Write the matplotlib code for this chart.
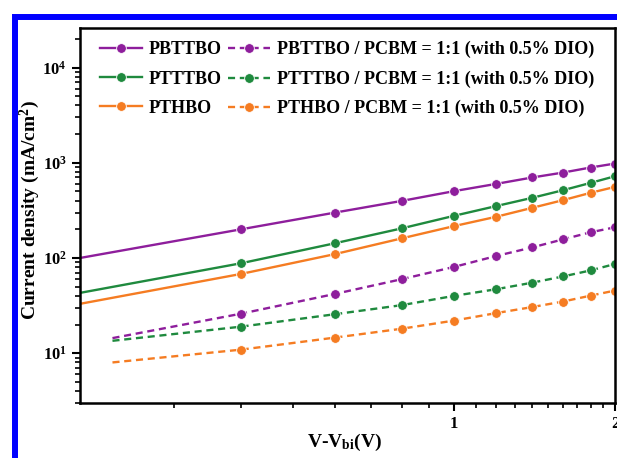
import matplotlib.pyplot as plt
from matplotlib.patches import Rectangle
from matplotlib.ticker import FixedLocator, NullFormatter

plt.rcParams['font.family'] = ['Liberation Serif', 'DejaVu Serif']
plt.rcParams['font.weight'] = 'bold'
plt.rcParams['mathtext.fontset'] = 'custom'
plt.rcParams['mathtext.rm'] = 'Liberation Serif:bold'
plt.rcParams['mathtext.bf'] = 'Liberation Serif:bold'
plt.rcParams['mathtext.it'] = 'Liberation Serif:bold:italic'

# Data (V - Vbi in volts, current density in mA/cm^2)
v_neat = [0.2, 0.4, 0.6, 0.8, 1.0, 1.2, 1.4, 1.6, 1.8, 2.0]
pbttbo = [100, 200, 300, 398, 503, 600, 700, 789, 891, 981]
ptttbo = [43, 88, 143, 205, 277, 351, 428, 515, 614, 722]
pthbo = [33, 68, 110, 161, 216, 271, 336, 405, 483, 558]

v_blend = [0.23, 0.4, 0.6, 0.8, 1.0, 1.2, 1.4, 1.6, 1.8, 2.0]
pbttbo_blend = [14.4, 26, 42, 60, 80.5, 105, 129, 157, 186, 210]
ptttbo_blend = [13.5, 19, 25.7, 32, 40, 47, 55, 64, 74, 86.5]
pthbo_blend = [8.0, 10.9, 14.6, 18.1, 22, 26.4, 30.5, 34.9, 40.2, 45.5]

purple = '#8E1E9C'
green = '#1F8A3E'
orange = '#F57C22'

fig = plt.figure(figsize=(6.17, 4.58), dpi=100)
ax = fig.add_axes([80/617, 1 - 403/458, 535/617, 375/458])

series = [
    (v_neat, pbttbo, purple, '-', 'PBTTBO'),
    (v_blend, pbttbo_blend, purple, (0, (3, 2)), 'PBTTBO / PCBM = 1:1 (with 0.5% DIO)'),
    (v_neat, ptttbo, green, '-', 'PTTTBO'),
    (v_blend, ptttbo_blend, green, (0, (3, 2)), 'PTTTBO / PCBM = 1:1 (with 0.5% DIO)'),
    (v_neat, pthbo, orange, '-', 'PTHBO'),
    (v_blend, pthbo_blend, orange, (0, (3, 2)), 'PTHBO / PCBM = 1:1 (with 0.5% DIO)'),
]
lines = []
for x, y, c, ls, lab in series:
    ln, = ax.plot(x, y, color=c, ls=ls, lw=1.7, marker='o', markersize=7,
                  markerfacecolor=c, markeredgecolor='white', markeredgewidth=0.6,
                  markevery=slice(1, None), label=lab)
    lines.append(ln)

ax.set_xscale('log')
ax.set_yscale('log')
ax.set_xlim(0.2, 2.0)
ax.set_ylim(3.0, 26000)

ax.set_xticks([1, 2], ['1', '2'])
ax.xaxis.set_minor_locator(FixedLocator([0.3, 0.4, 0.5, 0.6, 0.7, 0.8, 0.9,
                                         1.1, 1.2, 1.3, 1.4, 1.5, 1.6, 1.7, 1.8, 1.9]))
ax.xaxis.set_minor_formatter(NullFormatter())
ax.set_yticks([10, 100, 1000, 10000],
              [r'$\mathbf{10^{1}}$', r'$\mathbf{10^{2}}$', r'$\mathbf{10^{3}}$', r'$\mathbf{10^{4}}$'])
ax.yaxis.set_minor_formatter(NullFormatter())

ax.tick_params(which='major', direction='out', length=6, width=1.5, labelsize=12)
ax.tick_params(which='minor', direction='out', length=3.5, width=1.2)
for s in ax.spines.values():
    s.set_linewidth(1.8)

ax.set_xlabel(r'V-V$_{\mathbf{bi}}$(V)', fontsize=14, fontweight='bold')
ax.xaxis.set_label_coords(0.495, -(432 - 403) / 375)
ax.set_ylabel(r'Current density (mA/cm$^{2}$)', fontsize=14, fontweight='bold')
ax.yaxis.set_label_coords(-(80 - 42) / 535, (403 - 210) / 375)

# legend filled row by row: neat film, then blend
order = [0, 2, 4, 1, 3, 5]
ax.legend([lines[i] for i in order], [lines[i].get_label() for i in order],
          ncol=2, loc='upper left', bbox_to_anchor=(20/535, 1 - 13/375),
          frameon=False, fontsize=13, handlelength=2.3, handletextpad=0.4,
          columnspacing=0.35, labelspacing=0.68, borderpad=0, borderaxespad=0)

# blue frame around the panel
fig.add_artist(Rectangle((15/617, -0.5), 2, 0.5 + 1 - 17/458, transform=fig.transFigure,
                         fill=False, edgecolor='#0000FF', lw=4.3))

fig.savefig('out.png', dpi=100)
